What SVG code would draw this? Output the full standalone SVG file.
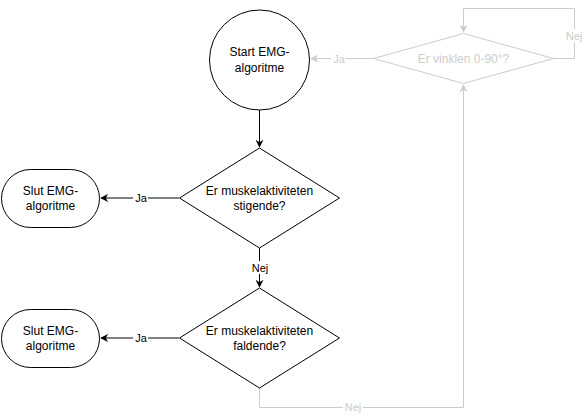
<svg xmlns="http://www.w3.org/2000/svg" width="585" height="418" viewBox="0 0 585 418">
<style>
.node{fill:#fff;stroke:#000;stroke-width:1}
.gnode{fill:#fff;stroke:#ccc;stroke-width:1}
.t{font-family:"Liberation Sans",Arial,sans-serif;font-size:12px;fill:#000;text-anchor:middle}
.gt{font-family:"Liberation Sans",Arial,sans-serif;font-size:12px;fill:#ccc;text-anchor:middle}
.lbl{font-family:"Liberation Sans",Arial,sans-serif;font-size:11px;fill:#000;text-anchor:middle}
.glbl{font-family:"Liberation Sans",Arial,sans-serif;font-size:11px;fill:#ccc;text-anchor:middle}
.e{fill:none;stroke:#000;stroke-width:1}
.ge{fill:none;stroke:#ccc;stroke-width:1}
.bg{fill:#fff}
</style>
<defs>
<marker id="a" viewBox="0 0 10 10" refX="9" refY="5" markerWidth="8" markerHeight="8" markerUnits="userSpaceOnUse" orient="auto"><path d="M0,0 L10,5 L0,10 L3,5 Z" fill="#000"/></marker>
<marker id="ga" viewBox="0 0 10 10" refX="9" refY="5" markerWidth="8" markerHeight="8" markerUnits="userSpaceOnUse" orient="auto"><path d="M0,0 L10,5 L0,10 L3,5 Z" fill="#ccc"/></marker>
</defs>
<rect width="585" height="418" fill="#fff"/>
<g id="connectors">
<path class="e" d="M259.5,110 L259.5,147" marker-end="url(#a)"/>
<path class="e" d="M179,198 L101,198" marker-end="url(#a)"/>
<rect class="bg" x="133" y="191" width="15" height="13"/>
<text class="lbl" x="141" y="202">Ja</text>
<path class="e" d="M259.5,248 L259.5,287" marker-end="url(#a)"/>
<rect class="bg" x="250" y="261" width="20" height="13"/>
<text class="lbl" x="260" y="272">Nej</text>
<path class="e" d="M179,338 L101,338" marker-end="url(#a)"/>
<rect class="bg" x="133" y="331" width="15" height="13"/>
<text class="lbl" x="141" y="342">Ja</text>
<path class="ge" d="M259.5,388 L259.5,407.5 L463.5,407.5 L463.5,85" marker-end="url(#ga)"/>
<rect class="bg" x="343" y="400" width="20" height="13"/>
<text class="glbl" x="353" y="411">Nej</text>
<path class="ge" d="M553,58.5 L574.5,58.5 L574.5,8.5 L463.5,8.5 L463.5,32" marker-end="url(#ga)"/>
<rect class="bg" x="564" y="29" width="20" height="13"/>
<text class="glbl" x="574" y="40">Nej</text>
<path class="ge" d="M373,58.5 L311,58.5" marker-end="url(#ga)"/>
<rect class="bg" x="331" y="52" width="15" height="13"/>
<text class="glbl" x="339" y="63">Ja</text>
</g>
<g id="start">
<circle class="node" cx="259.5" cy="60" r="50"/>
<text class="t" x="259.5" y="56">Start EMG-</text>
<text class="t" x="259.5" y="72">algoritme</text>
</g>
<g id="d1">
<polygon class="node" points="259.5,148 339.5,198 259.5,248 179.5,198"/>
<text class="t" x="259.5" y="195">Er muskelaktiviteten</text>
<text class="t" x="259.5" y="210">stigende?</text>
</g>
<g id="slut1">
<rect class="node" x="1.5" y="169.5" width="98" height="58" rx="29" ry="29"/>
<text class="t" x="50.5" y="195">Slut EMG-</text>
<text class="t" x="50.5" y="210">algoritme</text>
</g>
<g id="d2">
<polygon class="node" points="259.5,288 339.5,338 259.5,388 179.5,338"/>
<text class="t" x="259.5" y="335">Er muskelaktiviteten</text>
<text class="t" x="259.5" y="350">faldende?</text>
</g>
<g id="slut2">
<rect class="node" x="1.5" y="309.5" width="98" height="58" rx="29" ry="29"/>
<text class="t" x="50.5" y="335">Slut EMG-</text>
<text class="t" x="50.5" y="350">algoritme</text>
</g>
<g id="d3">
<polygon class="gnode" points="463.5,33.5 553.5,58.5 463.5,83.5 373.5,58.5"/>
<text class="gt" x="463.5" y="63">Er vinklen 0-90°?</text>
</g>
</svg>
